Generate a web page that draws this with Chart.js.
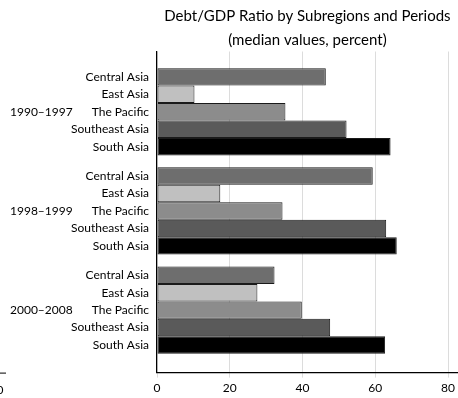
<!DOCTYPE html>
<html><head><meta charset="utf-8">
<script src="https://cdn.jsdelivr.net/npm/chart.js@4.4.1/dist/chart.umd.min.js"></script>
<style>html,body{margin:0;padding:0;background:#fff}#wrap{width:458px;height:398px}</style>
</head><body><div id="wrap"><canvas id="c" width="458" height="398"></canvas></div>
<script>
const periods = ['1990\u20131997', '1998\u20131999', '2000\u20132008'];
const subregions = ['Central Asia', 'East Asia', 'The Pacific', 'Southeast Asia', 'South Asia'];
const centralAsia = [46.4, 59.3, 32.3];
const eastAsia = [10.3, 17.4, 27.6];
const thePacific = [35.3, 34.5, 39.8];
const southeastAsia = [52.1, 63.0, 47.6];
const southAsia = [64.2, 65.9, 62.7];
const xTicks = [0, 20, 40, 60, 80];
const colors = ['#6e6e6e', '#c0c0c0', '#8c8c8c', '#5a5a5a', '#000000'];
const seriesValues = [centralAsia, eastAsia, thePacific, southeastAsia, southAsia];
const FONT = 'Lato';

const datasets = subregions.map((name, i) => ({
  label: name,
  data: seriesValues[i].map((v, k) => ({x: v, y: k})),
  backgroundColor: colors[i],
  borderColor: '#1a1a1a',
  borderWidth: 1,
  borderSkipped: false,
  categoryPercentage: 0.88,
  barPercentage: 1.0
}));

const subLabels = {
  id: 'subLabels',
  afterDatasetsDraw(chart) {
    const ctx = chart.ctx;
    ctx.save();
    ctx.font = '12px ' + FONT;
    ctx.fillStyle = '#000';
    ctx.textAlign = 'right';
    ctx.textBaseline = 'middle';
    chart.data.datasets.forEach((ds, i) => {
      chart.getDatasetMeta(i).data.forEach(el => {
        ctx.fillText(ds.label, chart.chartArea.left - 8, el.y);
      });
    });
    // cropped neighbour artifact at left edge
    ctx.strokeStyle = '#000';
    ctx.lineWidth = 1;
    ctx.beginPath();
    ctx.moveTo(0, chart.chartArea.bottom + 0.5);
    ctx.lineTo(6, chart.chartArea.bottom + 0.5);
    ctx.stroke();
    ctx.textAlign = 'center';
    ctx.fillText('0', 0, 390);
    ctx.restore();
  }
};

new Chart(document.getElementById('c'), {
  type: 'bar',
  data: { datasets },
  plugins: [subLabels],
  options: {
    indexAxis: 'y',
    responsive: false,
    animation: false,
    layout: { padding: { left: 10, right: 0, top: 0, bottom: 0 } },
    plugins: {
      legend: { display: false },
      tooltip: { enabled: false },
      title: {
        display: true,
        fullSize: false,
        text: ['Debt/GDP Ratio by Subregions and Periods', '(median values, percent)'],
        color: '#000',
        font: { family: FONT, size: 15, weight: 'normal', lineHeight: 1.55 },
        padding: { top: 5, bottom: 0 }
      }
    },
    scales: {
      x: {
        type: 'linear',
        min: 0,
        max: 82.7,
        afterBuildTicks(scale) { scale.ticks = xTicks.map(v => ({value: v})); },
        ticks: { color: '#000', font: { family: FONT, size: 12 }, padding: 3, maxRotation: 0 },
        grid: { color: '#dcdcdc', lineWidth: 1, tickLength: 5, drawTicks: true },
        border: { display: true, color: '#000', width: 1.2 }
      },
      y: {
        type: 'linear',
        reverse: true,
        offset: false,
        min: -0.608,
        max: 2.63,
        afterBuildTicks(scale) { scale.ticks = periods.map((p, k) => ({value: k})); },
        afterFit(scale) { scale.width = 147; },
        ticks: {
          color: '#000',
          font: { family: FONT, size: 12 },
          crossAlign: 'far',
          padding: 10,
          callback: (v) => periods[v] !== undefined ? periods[v] : ''
        },
        grid: { display: false, drawTicks: false },
        border: { display: true, color: '#000', width: 1.2 }
      }
    }
  }
});
</script></body></html>
